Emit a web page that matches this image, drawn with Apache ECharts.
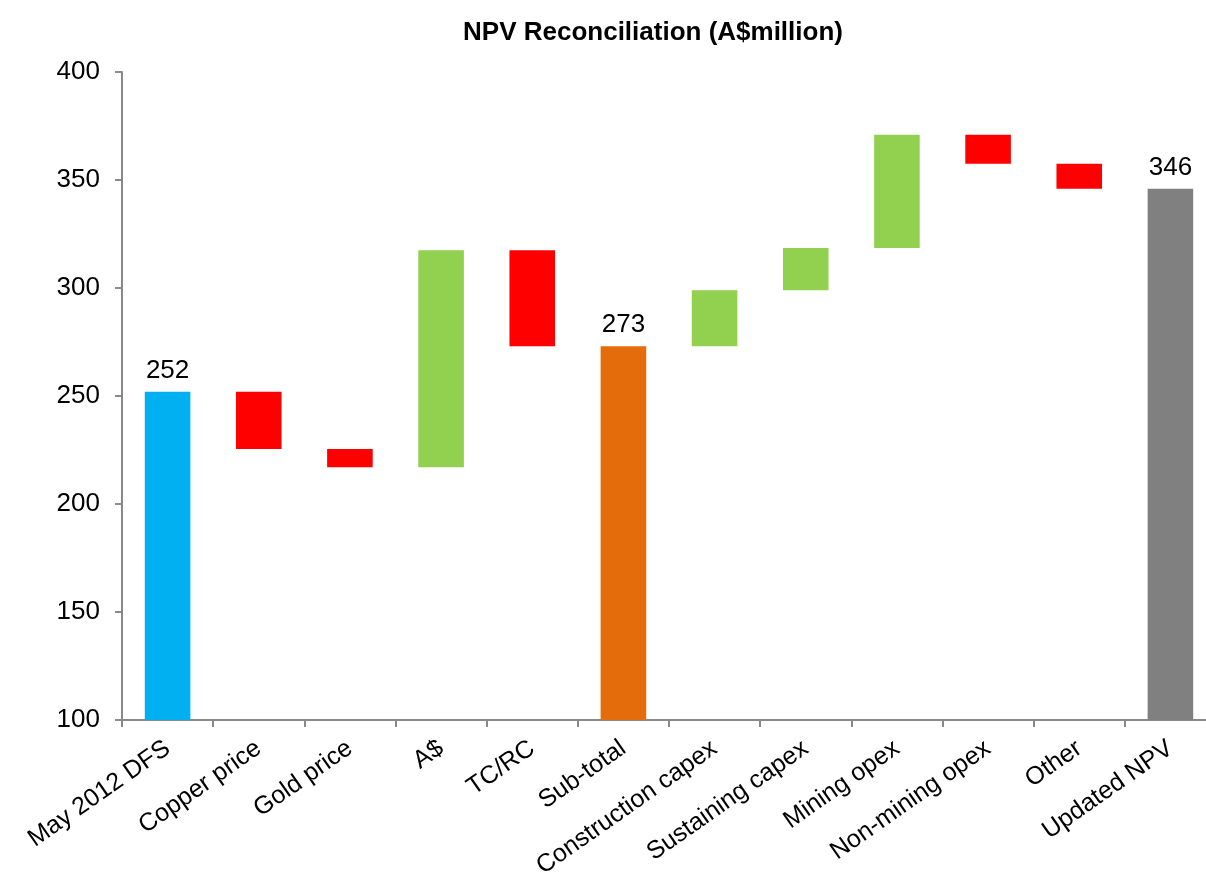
<!DOCTYPE html>
<html>
<head>
<meta charset="utf-8">
<script src="https://cdn.jsdelivr.net/npm/echarts@6/dist/echarts.min.js"></script>
<style>
  html, body { margin: 0; padding: 0; background: #fff; }
  #chart { width: 1206px; height: 875px; }
</style>
</head>
<body>
<div id="chart"></div>
<script>
const categories = ['May 2012 DFS', 'Copper price', 'Gold price', 'A$', 'TC/RC', 'Sub-total',
  'Construction capex', 'Sustaining capex', 'Mining opex', 'Non-mining opex', 'Other', 'Updated NPV'];
// change per step; totals are given as full values
const changes = [252, -26.5, -8.5, 100.5, -44.5, 273, 26, 19.5, 52.5, -13.5, -11.5, 346];
const isTotal = [true, false, false, false, false, true, false, false, false, false, false, true];
const totalColors = ['#00b0f0', '#e46c0a', '#808080'];
const yTicks = [100, 150, 200, 250, 300, 350, 400];

const baseData = [];
const barData = [];
let running = 0;
let t = 0;
changes.forEach((v, i) => {
  if (isTotal[i]) {
    running = v;
    baseData.push(0);
    barData.push({ value: v, itemStyle: { color: totalColors[t++] }, label: { show: true } });
  } else {
    const next = running + v;
    baseData.push(Math.min(running, next));
    barData.push({ value: Math.abs(v), itemStyle: { color: v < 0 ? '#ff0000' : '#92d050' } });
    running = next;
  }
});

const chart = echarts.init(document.getElementById('chart'));
chart.setOption({
  animation: false,
  textStyle: { fontFamily: 'Liberation Sans, Arial, sans-serif' },
  title: {
    text: 'NPV Reconciliation (A$million)',
    left: 648,
    textAlign: 'center',
    top: 15,
    textStyle: { fontSize: 26, fontWeight: 'bold', color: '#000' }
  },
  grid: { left: 122, top: 72, width: 1094, height: 648, outerBoundsMode: 'none' },
  xAxis: {
    type: 'category',
    data: categories,
    axisLine: { lineStyle: { color: '#898989', width: 2 } },
    axisTick: { show: true, length: 7, lineStyle: { color: '#898989', width: 2 } },
    axisLabel: { rotate: 35, fontSize: 25, color: '#000', margin: 26, interval: 0 }
  },
  yAxis: {
    type: 'value',
    min: yTicks[0],
    max: yTicks[yTicks.length - 1],
    interval: 50,
    splitLine: { show: false },
    axisLine: { show: true, lineStyle: { color: '#898989', width: 2 } },
    axisTick: { show: true, length: 7, lineStyle: { color: '#898989', width: 2 } },
    axisLabel: { fontSize: 26, color: '#000', margin: 22 }
  },
  series: [
    {
      type: 'bar',
      stack: 'wf',
      data: baseData,
      itemStyle: { color: 'transparent' },
      silent: true,
      barWidth: '50%'
    },
    {
      type: 'bar',
      stack: 'wf',
      data: barData,
      barWidth: '50%',
      label: {
        show: false,
        position: 'top',
        distance: 8,
        fontSize: 26,
        color: '#000',
        formatter: (p) => Math.round(baseData[p.dataIndex] + p.value)
      }
    }
  ]
});
</script>
</body>
</html>
